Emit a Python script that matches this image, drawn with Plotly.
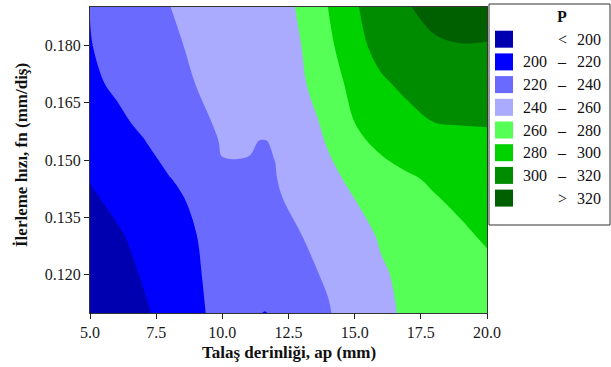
import plotly.graph_objects as go

# ---------------- data ----------------
ap_mm = [5, 6, 7, 8, 9, 10, 11, 11.6, 12, 13, 14, 15, 16, 17, 18, 19, 20]
fn_mm = [0.11, 0.12, 0.13, 0.14, 0.145, 0.15, 0.155, 0.16, 0.17, 0.18, 0.19]

P_011 = [177.7, 187.4, 197.1, 206.8, 216.5, 226.0, 223.0, 219.5, 221.5, 229.3, 239.0, 247.2, 255.2, 263.2, 265.2, 267.1, 269.0]
P_012 = [184.5, 192.9, 201.3, 209.7, 219.0, 223.5, 228.0, 230.7, 232.5, 237.1, 241.5, 250.6, 258.4, 263.2, 267.3, 271.3, 275.3]
P_013 = [190.3, 197.6, 205.0, 212.4, 219.7, 224.8, 229.8, 232.8, 234.8, 239.8, 247.2, 254.6, 261.4, 266.6, 271.8, 276.9, 282.1]
P_014 = [197.6, 204.0, 210.3, 216.7, 222.5, 227.7, 232.9, 236.0, 238.1, 244.8, 252.4, 260.1, 266.4, 272.7, 278.9, 283.6, 288.0]
P_0145 = [200.7, 207.0, 213.3, 219.5, 224.5, 229.5, 234.4, 237.4, 239.4, 247.3, 255.8, 263.5, 270.4, 277.4, 282.6, 286.9, 291.1]
P_015 = [204.0, 210.1, 216.2, 222.7, 230.2, 239.8, 239.8, 238.8, 240.1, 249.3, 258.5, 268.1, 278.5, 284.5, 287.5, 290.8, 294.3]
P_0155 = [207.3, 213.3, 219.3, 226.6, 234.1, 241.0, 240.8, 239.5, 241.5, 250.2, 261.6, 276.5, 284.0, 287.0, 290.0, 293.5, 297.5]
P_016 = [210.7, 216.7, 223.1, 229.8, 236.6, 242.4, 247.2, 250.1, 252.1, 256.9, 261.7, 280.2, 286.9, 293.8, 300.3, 301.6, 301.0]
P_017 = [216.8, 222.6, 228.5, 234.4, 240.2, 244.8, 249.5, 252.3, 254.2, 257.5, 271.8, 285.5, 296.9, 305.0, 307.0, 308.5, 310.0]
P_018 = [219.4, 225.4, 231.3, 237.3, 242.4, 246.8, 251.2, 253.8, 255.6, 260.1, 276.3, 292.6, 308.0, 313.5, 318.9, 319.7, 319.1]
P_019 = [220.3, 226.6, 233.2, 239.8, 244.1, 248.3, 252.5, 255.0, 256.6, 261.2, 280.2, 298.2, 309.2, 319.5, 322.6, 325.3, 328.0]

P_grid = [P_011, P_012, P_013, P_014, P_0145, P_015, P_0155, P_016, P_017, P_018, P_019]

levels_start, levels_end, levels_step = 200, 320, 20
legend_left = ["", "200", "220", "240", "260", "280", "300", ""]
legend_mid = ["<", "–", "–", "–", "–", "–", "–", ">"]
legend_right = ["200", "220", "240", "260", "280", "300", "320", "320"]
band_colors = ["#0000B0", "#0000FF", "#6A6AFF", "#AAAAFF",
               "#55FF55", "#00D200", "#008C00", "#006000"]

x_ticks = [5.0, 7.5, 10.0, 12.5, 15.0, 17.5, 20.0]
y_ticks = [0.120, 0.135, 0.150, 0.165, 0.180]

# ---------------- layout geometry ----------------
W, H = 611, 367
ML, MR, MT, MB = 90, 124, 7, 54
PW, PH = W - ML - MR, H - MT - MB
FONT = "Liberation Serif"
TICK_SIZE, TITLE_SIZE, LEG_SIZE = 16, 17, 16


def px(xp):
    return (xp - ML) / PW


def py(yp):
    return (H - MB - yp) / PH


# step colour scale: each band coloured exactly
n = len(band_colors)
cscale = []
for i, c in enumerate(band_colors):
    lo = max(0.0, (i - 0.5) / (n - 1))
    hi = min(1.0, (i + 0.5) / (n - 1))
    cscale.append([lo, c])
    cscale.append([hi, c])

fig = go.Figure(go.Contour(
    x=ap_mm, y=fn_mm, z=P_grid,
    contours=dict(start=levels_start, end=levels_end, size=levels_step,
                  coloring="fill", showlines=False),
    line=dict(width=0, smoothing=1.0),
    colorscale=cscale, showscale=False, hoverinfo="skip",
))

axis_common = dict(
    showline=True, linecolor="#333", linewidth=1, mirror=True,
    ticks="outside", ticklen=5, tickcolor="#222", tickwidth=1,
    showgrid=False, zeroline=False,
    tickfont=dict(family=FONT, size=TICK_SIZE, color="#1a1a1a"),
)
fig.update_xaxes(range=[5, 20], tickvals=x_ticks, tickformat=".1f", **axis_common)
fig.update_yaxes(range=[0.11, 0.19], tickvals=y_ticks, tickformat=".3f", **axis_common)

annotations = [
    dict(x=px(288.5), y=py(352), xref="paper", yref="paper",
         text="<b>Talaş derinliği, ap (mm)</b>", showarrow=False,
         font=dict(family=FONT, size=TITLE_SIZE, color="#111"), xanchor="center", yanchor="middle"),
    dict(x=px(22), y=py(155), xref="paper", yref="paper",
         text="<b>İlerleme hızı, fn (mm/diş)</b>", showarrow=False, textangle=-90,
         font=dict(family=FONT, size=TITLE_SIZE, color="#111"), xanchor="center", yanchor="middle"),
    dict(x=px(562), y=py(16), xref="paper", yref="paper", text="<b>P</b>",
         showarrow=False, font=dict(family=FONT, size=LEG_SIZE, color="#111"),
         xanchor="center", yanchor="middle"),
]

shapes = [
    dict(type="rect", xref="paper", yref="paper",
         x0=px(489), x1=px(610), y0=py(225), y1=py(4),
         line=dict(color="#333", width=1), fillcolor="rgba(0,0,0,0)", layer="above"),
]

row0, row_step = 39.2, 22.7
for i, c in enumerate(band_colors):
    yc = row0 + i * row_step
    shapes.append(dict(type="rect", xref="paper", yref="paper",
                       x0=px(495), x1=px(513), y0=py(yc + 8.5), y1=py(yc - 8.5),
                       line=dict(width=0), fillcolor=c))
    for xc, t in ((535, legend_left[i]), (562, legend_mid[i]), (588.5, legend_right[i])):
        if t:
            annotations.append(dict(x=px(xc), y=py(yc), xref="paper", yref="paper",
                                    text=t, showarrow=False,
                                    font=dict(family=FONT, size=LEG_SIZE, color="#111"),
                                    xanchor="center", yanchor="middle"))

fig.update_layout(
    width=W, height=H, autosize=False,
    margin=dict(l=ML, r=MR, t=MT, b=MB, pad=0),
    paper_bgcolor="white", plot_bgcolor="white",
    annotations=annotations, shapes=shapes, showlegend=False,
)

fig.write_html("out.html")
